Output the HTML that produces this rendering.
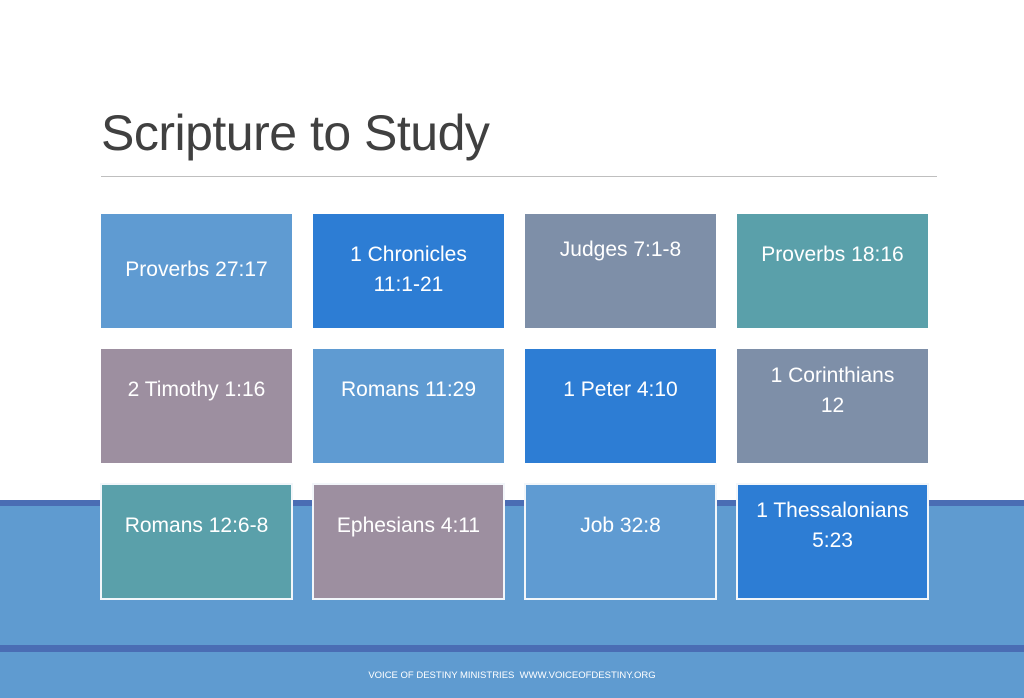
<!DOCTYPE html>
<html><head><meta charset="utf-8"><style>
body{margin:0;width:1024px;height:698px;position:relative;overflow:hidden;background:#fff;font-family:"Liberation Sans",sans-serif}
.abs{position:absolute}
.box{position:absolute;width:191px;height:114px;color:#fff;font-size:21px;text-align:center;box-sizing:border-box}
.box span{position:absolute;left:0;right:0;line-height:30px;white-space:nowrap}
.lb{background:#5f9bd2}.bb{background:#2d7dd4}.sl{background:#7e8fa8}.te{background:#5aa0aa}.mv{background:#9d8fa0}
.bord{border:2px solid #f2f6fa}
</style></head><body>
<div class="abs" style="left:101px;top:104px;font-size:50px;color:#404040;letter-spacing:-0.5px">Scripture to Study</div>
<div class="abs" style="left:101px;top:176px;width:836px;height:1px;background:#bfbfbf"></div>
<div class="abs" style="left:0;top:500px;width:1024px;height:198px;background:#5f9bd0"></div>
<div class="abs" style="left:0;top:500px;width:1024px;height:6px;background:#4a6db4"></div>
<div class="abs" style="left:0;top:645px;width:1024px;height:7px;background:#4a6db4"></div>

<div class="box lb" style="left:101px;top:214px"><span style="top:41px">Proverbs 27:17</span></div>
<div class="box bb" style="left:313px;top:214px"><span style="top:26px">1 Chronicles</span><span style="top:56px">11:1-21</span></div>
<div class="box sl" style="left:525px;top:214px"><span style="top:21px">Judges 7:1-8</span></div>
<div class="box te" style="left:737px;top:214px"><span style="top:26px">Proverbs 18:16</span></div>

<div class="box mv" style="left:101px;top:349px"><span style="top:26px">2 Timothy 1:16</span></div>
<div class="box lb" style="left:313px;top:349px"><span style="top:26px">Romans 11:29</span></div>
<div class="box bb" style="left:525px;top:349px"><span style="top:26px">1 Peter 4:10</span></div>
<div class="box sl" style="left:737px;top:349px"><span style="top:12px">1 Corinthians</span><span style="top:42px">12</span></div>

<div class="box te bord" style="left:100px;top:483px;width:193px;height:117px"><span style="top:26px">Romans 12:6-8</span></div>
<div class="box mv bord" style="left:312px;top:483px;width:193px;height:117px"><span style="top:26px">Ephesians 4:11</span></div>
<div class="box lb bord" style="left:524px;top:483px;width:193px;height:117px"><span style="top:26px">Job 32:8</span></div>
<div class="box bb bord" style="left:736px;top:483px;width:193px;height:117px"><span style="top:11px">1 Thessalonians</span><span style="top:41px">5:23</span></div>

<div class="abs" style="left:367px;top:670px;width:290px;text-align:center;font-size:9.5px;color:#fff;white-space:nowrap">VOICE OF DESTINY MINISTRIES&nbsp; WWW.VOICEOFDESTINY.ORG</div>
</body></html>
